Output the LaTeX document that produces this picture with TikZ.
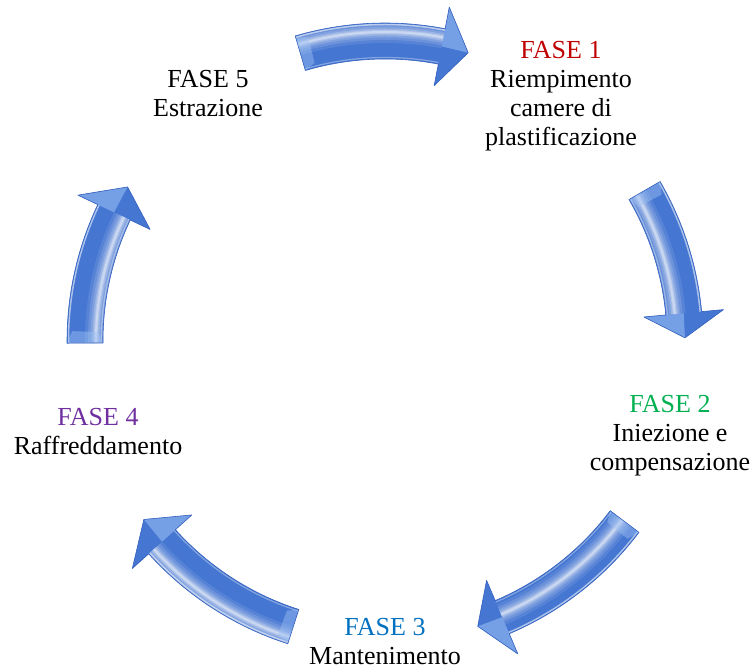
\documentclass[tikz,border=0pt]{standalone}
\usepackage{fontspec}
\setmainfont{Liberation Serif}
\definecolor{arrowblue}{RGB}{68,118,210}
\definecolor{arrowlight}{RGB}{160,195,245}
\definecolor{arrowedge}{RGB}{52,96,190}
\definecolor{faseone}{RGB}{192,0,0}
\definecolor{fasetwo}{RGB}{0,176,80}
\definecolor{fasethree}{RGB}{0,112,192}
\definecolor{fasefour}{RGB}{112,48,160}

% Curved 3D block arrow on the ring around the cycle centre.
% #1 tail angle, #2 head base angle, #3 tip angle,
% #4 radius of the soft highlight, #5 radius of the lit head corner
\newcommand\cyclearrow[5]{%
  \begin{scope}[shift={(385,328)}]
    \pgfmathsetmacro\bevelangle{#1-2.2}
    \fill[arrowblue] (#1:282) arc[start angle=#1,end angle=#2,radius=282]
      -- (#2:260) -- (#3:300) -- (#2:340) -- (#2:318)
      arc[start angle=#2,end angle=#1,radius=318] -- cycle;
    \begin{scope}
      \clip (#1:282) arc[start angle=#1,end angle=#2,radius=282]
        -- (#2:318) arc[start angle=#2,end angle=#1,radius=318] -- cycle;
      \foreach \w/\o in {22/.10,16/.12,11/.15,7/.2,4/.25,2/.3}
        \draw[white, line width=\w, opacity=\o] (0,0) circle[radius=#4];
      \draw[white, line width=1.5, opacity=.55] (0,0) circle[radius=316.5];
      \draw[white, line width=1.2, opacity=.35] (0,0) circle[radius=283.5];
    \end{scope}
    % bevelled tail end
    \fill[arrowlight, opacity=.45] (#1:282) -- (#1:318)
      -- (\bevelangle:313) -- (\bevelangle:287) -- cycle;
    % lit facet of the head
    \fill[arrowlight, opacity=.55] (#2:300) -- (#3:300) -- (#2:#5) -- cycle;
    \draw[arrowedge, line width=.6, line join=round]
      (#1:282) arc[start angle=#1,end angle=#2,radius=282]
      -- (#2:260) -- (#3:300) -- (#2:340) -- (#2:318)
      arc[start angle=#2,end angle=#1,radius=318] -- cycle;
  \end{scope}}

\tikzset{phase/.style={align=center, inner sep=0pt,
  font=\fontsize{26}{29}\selectfont}}

\begin{document}
\begin{tikzpicture}[x=1pt,y=1pt]
  \useasboundingbox (0,0) rectangle (755,669);

  % arrows of the cycle, clockwise
  \cyclearrow{106.4}{79.1}{73.9}{309}{340}
  \cyclearrow{30.1}{5.3}{0.6}{291}{260}
  \cyclearrow{-37}{-67}{-72}{297}{340}
  \cyclearrow{-107.8}{-138}{-143.5}{311}{260}
  \cyclearrow{180.4}{154.6}{149.1}{289}{340}

  % phase labels
  \node[phase] (f1) at (561,572.5)
    {\textcolor{faseone}{FASE 1}\\Riempimento\\camere di\\plastificazione};
  \node[phase] (f2) at (670,233)
    {\textcolor{fasetwo}{FASE 2}\\Iniezione e\\compensazione};
  \node[phase] (f3) at (385,27.5)
    {\textcolor{fasethree}{FASE 3}\\Mantenimento};
  \node[phase] (f4) at (98,237.5)
    {\textcolor{fasefour}{FASE 4}\\Raffreddamento};
  \node[phase] (f5) at (208,575)
    {FASE 5\\Estrazione};
\end{tikzpicture}
\end{document}
